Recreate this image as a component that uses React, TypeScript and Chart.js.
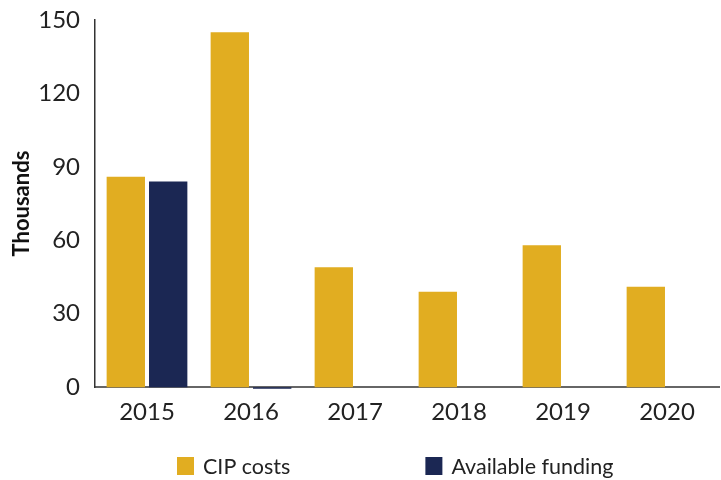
import React, { useEffect, useRef } from "react";
import { Chart, registerables } from "chart.js";

Chart.register(...registerables);

const categories = ["2015", "2016", "2017", "2018", "2019", "2020"];
const cipCosts = [86, 145, 49, 39, 58, 41];
const availableFunding = [84, -0.6, 0, 0, 0, 0];
const yTicks = [0, 30, 60, 90, 120, 150];
const seriesNames = ["CIP costs", "Available funding"];
const seriesColors = ["#E1AD21", "#1B2753"];

const FONT = "Lato, 'DejaVu Sans', sans-serif";

const legendPlugin = {
  id: "bottomLegend",
  afterDraw(chart: any) {
    const ctx = chart.ctx;
    ctx.save();
    ctx.font = `21.5px ${FONT}`;
    ctx.textBaseline = "middle";
    ctx.textAlign = "left";
    let x = 177;
    const y = 466;
    chart.data.datasets.forEach((ds: any) => {
      ctx.fillStyle = ds.backgroundColor;
      ctx.fillRect(x, y - 9, 17, 18);
      ctx.fillStyle = "#222";
      ctx.fillText(ds.label, x + 26, y + 1);
      x += 26 + ctx.measureText(ds.label).width + 135;
    });
    ctx.restore();
  },
};

export default function App() {
  const ref = useRef<HTMLCanvasElement>(null);
  useEffect(() => {
    document.body.style.margin = "0";
    const chart = new Chart(ref.current!, {
      type: "bar",
      data: {
        labels: categories,
        datasets: [
          {
            label: seriesNames[0],
            data: cipCosts,
            backgroundColor: seriesColors[0],
            clip: false as any,
          },
          {
            label: seriesNames[1],
            data: availableFunding,
            backgroundColor: seriesColors[1],
            clip: false as any,
          },
        ],
      },
      options: {
        animation: false,
        responsive: false,
        maintainAspectRatio: false,
        datasets: {
          bar: { categoryPercentage: 0.815, barPercentage: 0.905 },
        },
        layout: { padding: { top: 20, right: 2, bottom: 42, left: 0 } },
        plugins: {
          legend: { display: false },
          tooltip: { enabled: false },
        },
        scales: {
          x: {
            grid: { display: false, drawTicks: false },
            border: { display: true, color: "#666", width: 2 },
            ticks: {
              color: "#222",
              font: { family: FONT, size: 24 },
              padding: 11,
            },
          },
          y: {
            min: 0,
            max: 150,
            afterFit: (s: any) => {
              s.width = 95;
              s.paddingTop = 0;
              s.paddingBottom = 0;
            },
            afterBuildTicks: (s: any) => {
              s.ticks = yTicks.map((v) => ({ value: v }));
            },
            grid: { display: false, drawTicks: false },
            border: { display: true, color: "#333", width: 1.5 },
            ticks: {
              color: "#222",
              font: { family: FONT, size: 24 },
              padding: 15,
            },
            title: {
              display: true,
              text: "Thousands",
              color: "#111",
              font: { family: FONT, size: 22, weight: "bold" },
              padding: { top: 9, bottom: 0 },
            },
          },
        },
      },
      plugins: [legendPlugin],
    });
    return () => chart.destroy();
  }, []);
  return (
    <div style={{ width: 721, height: 480 }}>
      <canvas ref={ref} width={721} height={480} style={{ display: "block" }} />
    </div>
  );
}
